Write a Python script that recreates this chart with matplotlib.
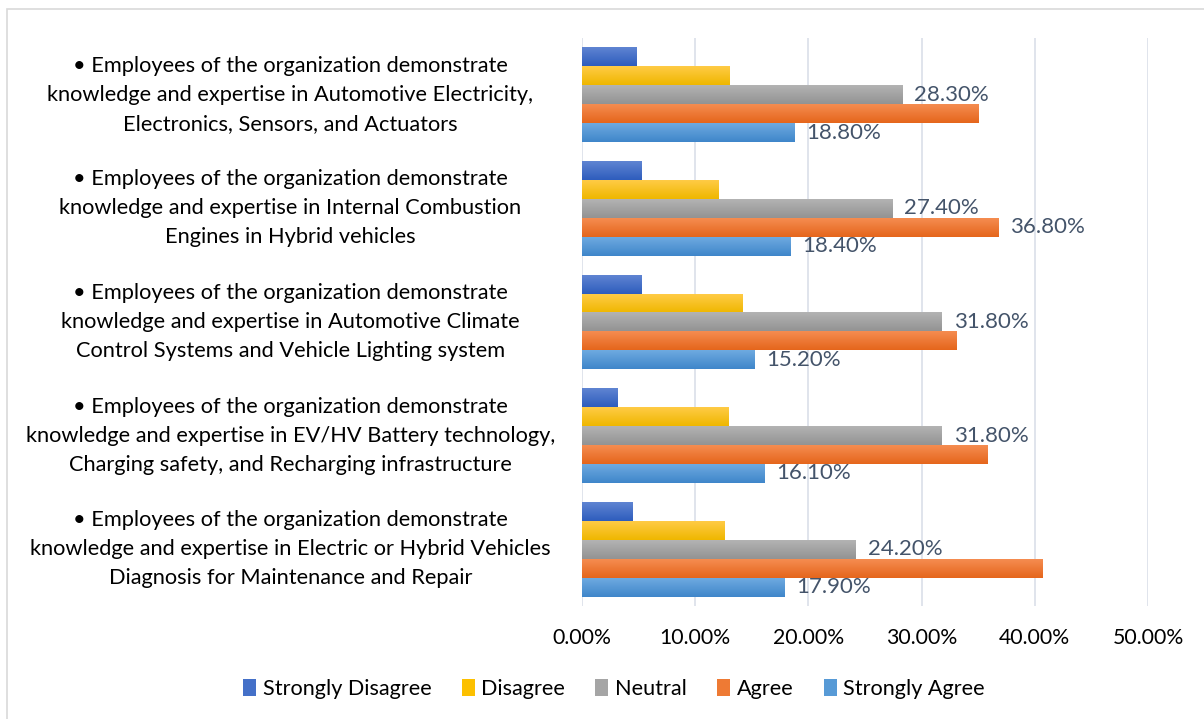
import numpy as np
import matplotlib
matplotlib.use('Agg')
import matplotlib.pyplot as plt
from matplotlib.patches import Rectangle, Patch
from matplotlib.colors import to_rgb

plt.rcParams['font.family'] = ['Lato', 'DejaVu Sans']

categories = [
    '\u2022 Employees of the organization demonstrate\nknowledge and expertise in Automotive Electricity,\nElectronics, Sensors, and Actuators',
    '\u2022 Employees of the organization demonstrate\nknowledge and expertise in Internal Combustion\nEngines in Hybrid vehicles',
    '\u2022 Employees of the organization demonstrate\nknowledge and expertise in Automotive Climate\nControl Systems and Vehicle Lighting system',
    '\u2022 Employees of the organization demonstrate\nknowledge and expertise in EV/HV Battery technology,\nCharging safety, and Recharging infrastructure',
    '\u2022 Employees of the organization demonstrate\nknowledge and expertise in Electric or Hybrid Vehicles\nDiagnosis for Maintenance and Repair',
]
series = ['Strongly Disagree', 'Disagree', 'Neutral', 'Agree', 'Strongly Agree']
strongly_disagree = [4.8, 5.3, 5.3, 3.1, 4.5]
disagree = [13.0, 12.1, 14.2, 12.9, 12.6]
neutral = [28.3, 27.4, 31.8, 31.8, 24.2]
agree = [35.0, 36.8, 33.1, 35.8, 40.7]
strongly_agree = [18.8, 18.4, 15.2, 16.1, 17.9]
values = [strongly_disagree, disagree, neutral, agree, strongly_agree]

# which bars carry a value label: (series index, category index)
labelled = [(2, i) for i in range(5)] + [(4, i) for i in range(5)] + [(3, 1)]

top_colors = ['#5f84d2', '#ffcb45', '#b3b3b3', '#f58c50', '#6eaae0']
bottom_colors = ['#2e5dbd', '#efb700', '#939393', '#e5661c', '#3f86ca']
mid_colors = ['#4470c8', '#fcc000', '#a5a5a5', '#ee7a34', '#579ad6']

fig = plt.figure(figsize=(12.04, 7.19), dpi=100)
ax = fig.add_axes([582 / 1204, 1 - 606 / 719, (1148 - 582) / 1204, 568 / 719])

y = np.arange(len(categories))
h = 1 / 6
for k, vals in enumerate(values):
    bars = ax.barh(y + (k - 2) * h, vals, height=h, color=mid_colors[k], zorder=2)
    c0 = np.array(to_rgb(top_colors[k]))
    c1 = np.array(to_rgb(bottom_colors[k]))
    grad = np.linspace(0, 1, 32)[:, None, None] * (c1 - c0) + c0
    for b in bars:
        x0, y0 = b.get_x(), b.get_y()
        ax.imshow(grad, extent=(x0, x0 + b.get_width(), y0 + b.get_height(), y0),
                  aspect='auto', origin='upper', zorder=3, interpolation='bilinear')

for k, i in labelled:
    v = values[k][i]
    ax.annotate(f'{v:.2f}%', (v, y[i] + (k - 2) * h), xytext=(8.5, 0),
                textcoords='offset points', va='center', ha='left',
                fontsize=16, color='#44546A', zorder=4)

ax.set_xlim(0, 50)
ax.set_ylim(len(categories) - 0.5, -0.5)
ax.set_xticks(np.arange(0, 51, 10))
ax.set_xticklabels([f'{t:.2f}%' for t in np.arange(0, 51, 10)])
ax.set_yticks(y)
ax.set_yticklabels(categories, ha='center', va='center', multialignment='center',
                   linespacing=1.56)
ax.tick_params(axis='y', length=0, pad=210, labelsize=15.7, labelcolor='#000000')
ax.tick_params(axis='x', length=0, pad=16, labelsize=15.3, labelcolor='#000000')
ax.grid(axis='x', color='#dde2ea', linewidth=1.3, zorder=0)
ax.set_axisbelow(True)
for s in ax.spines.values():
    s.set_visible(False)

handles = [Patch(facecolor=c, edgecolor='none') for c in mid_colors]
fig.legend(handles, series, loc='center', bbox_to_anchor=(614 / 1204, 1 - 689 / 719),
           ncol=5, frameon=False, fontsize=15.6, handlelength=0.6, handleheight=0.85,
           handletextpad=0.3, columnspacing=1.4)

fig.add_artist(Rectangle((7 / 1204, -0.1), 1.2, 1 - 9 / 719 + 0.1, transform=fig.transFigure,
                         fill=False, edgecolor='#d9d9d9', linewidth=1.2))

fig.savefig('out.png', dpi=100)
